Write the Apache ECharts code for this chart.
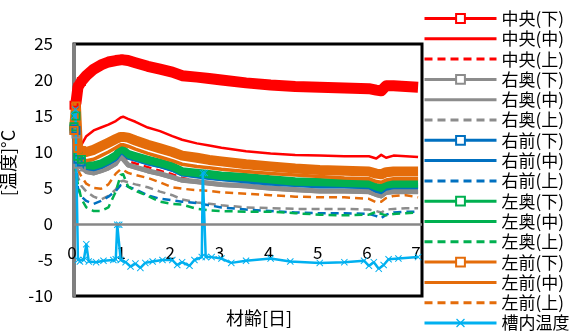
<!DOCTYPE html>
<html>
<head>
<meta charset="utf-8">
<script src="https://cdn.jsdelivr.net/npm/echarts@6/dist/echarts.min.js"></script>
<style>
html, body { margin: 0; padding: 0; background: #fff; }
#chart { width: 576px; height: 333px; }
</style>
</head>
<body>
<div id="chart"></div>
<script>
// Material age [days] shared by all sensor series
const ageDays = [0, 0.04, 0.08, 0.15, 0.25, 0.4, 0.55, 0.7, 0.85, 0.95, 1.0, 1.1, 1.25, 1.5, 1.75,
  2.0, 2.2, 2.5, 2.75, 3.0, 3.5, 4.0, 4.5, 5.0, 5.5, 6.0, 6.15, 6.25, 6.35, 6.5, 6.75, 7.0];

// 中央 (center)
const centerLow = [16.5, 16.8, 19.0, 19.8, 20.6, 21.5, 22.1, 22.5, 22.7, 22.8, 22.8, 22.7, 22.4, 21.9, 21.5,
  21.1, 20.6, 20.4, 20.2, 20.0, 19.6, 19.3, 19.1, 19.0, 18.9, 18.8, 18.6, 18.5, 19.2, 19.2, 19.1, 19.0];
const centerMid = [13.5, 9.0, 8.5, 11.0, 12.2, 13.0, 13.4, 13.8, 14.3, 14.8, 14.9, 14.6, 14.2, 13.4, 12.9,
  12.2, 11.7, 11.2, 10.9, 10.6, 10.1, 9.8, 9.6, 9.5, 9.4, 9.4, 9.1, 9.6, 9.2, 9.5, 9.4, 9.3];
const centerUp = [13.0, 8.0, 8.6, 8.3, 7.8, 7.4, 7.5, 7.9, 8.7, 9.5, 9.4, 8.7, 8.4, 7.9, 7.4,
  6.9, 6.4, 6.0, 5.7, 5.5, 5.3, 5.0, 4.8, 4.6, 4.6, 4.5, 4.1, 3.9, 4.4, 4.5, 4.5, 4.5];

// 右奥 (right back)
const rightBackLow = [13.0, 12.5, 8.3, 7.9, 7.3, 7.1, 7.4, 7.8, 8.4, 9.4, 9.0, 8.2, 7.9, 7.4, 7.0,
  6.5, 6.1, 5.9, 5.7, 5.5, 5.3, 5.0, 4.8, 4.6, 4.6, 4.5, 4.1, 3.9, 4.4, 4.5, 4.5, 4.5];
const rightBackMid = [12.8, 12.0, 8.1, 7.7, 7.1, 6.9, 7.2, 7.6, 8.2, 9.2, 8.8, 8.0, 7.7, 7.2, 6.8,
  6.3, 5.9, 5.7, 5.5, 5.3, 5.1, 4.8, 4.6, 4.4, 4.4, 4.3, 3.9, 3.7, 4.2, 4.3, 4.3, 4.3];
const rightBackUp = [12.5, 9.0, 6.5, 5.3, 4.5, 3.8, 3.4, 3.9, 4.8, 5.9, 6.0, 5.8, 5.5, 5.1, 4.5,
  4.0, 3.4, 3.0, 2.8, 2.6, 2.3, 2.2, 2.1, 2.1, 2.1, 2.0, 1.8, 1.6, 2.0, 2.1, 2.2, 2.2];

// 右前 (right front)
const rightFrontLow = [13.2, 13.0, 9.0, 8.6, 7.9, 7.8, 8.1, 8.6, 9.2, 10.1, 10.0, 9.4, 9.1, 8.6, 8.2,
  7.7, 7.0, 6.8, 6.6, 6.4, 6.2, 5.9, 5.6, 5.5, 5.4, 5.3, 4.8, 4.7, 5.2, 5.3, 5.3, 5.3];
const rightFrontMid = [13.0, 12.0, 8.6, 8.2, 7.7, 7.5, 7.8, 8.3, 8.9, 10.0, 9.8, 9.1, 8.8, 8.3, 7.9,
  7.4, 6.8, 6.5, 6.3, 6.1, 5.8, 5.5, 5.3, 5.1, 5.1, 5.0, 4.5, 4.3, 4.8, 5.0, 5.0, 5.0];
const rightFrontUp = [12.5, 8.0, 5.0, 3.8, 3.2, 2.8, 3.2, 3.8, 4.6, 5.4, 5.5, 5.2, 4.8, 4.0, 3.5,
  3.3, 3.1, 2.9, 2.6, 2.3, 2.0, 1.8, 1.6, 1.5, 1.5, 1.4, 1.1, 0.8, 1.3, 1.6, 1.7, 1.7];

// 左奥 (left back)
const leftBackLow = [13.5, 15.0, 9.4, 9.0, 8.3, 8.2, 8.5, 9.0, 9.6, 10.5, 10.4, 9.8, 9.5, 9.0, 8.6,
  8.1, 7.4, 7.2, 7.0, 6.8, 6.6, 6.3, 6.0, 5.9, 5.8, 5.7, 5.2, 5.1, 5.6, 5.7, 5.7, 5.7];
const leftBackMid = [13.2, 14.0, 8.9, 8.5, 7.8, 7.7, 8.0, 8.5, 9.1, 10.0, 9.9, 9.3, 9.0, 8.5, 8.1,
  7.6, 6.9, 6.7, 6.5, 6.3, 6.1, 5.8, 5.5, 5.4, 5.3, 5.2, 4.8, 4.6, 5.1, 5.2, 5.2, 5.2];
const leftBackUp = [12.0, 7.0, 5.5, 3.5, 2.3, 1.8, 1.8, 2.3, 4.5, 6.8, 6.9, 5.2, 4.6, 3.9, 3.1,
  2.8, 2.7, 2.1, 1.9, 1.8, 1.7, 1.7, 1.5, 1.3, 1.2, 1.3, 1.7, 1.4, 1.2, 1.4, 1.5, 1.6];

// 左前 (left front)
const leftFrontLow = [13.0, 16.4, 10.5, 10.2, 10.0, 10.3, 10.8, 11.3, 11.8, 12.1, 12.1, 12.0, 11.6, 11.0, 10.5,
  10.0, 9.5, 9.2, 8.9, 8.7, 8.3, 8.0, 7.7, 7.5, 7.4, 7.3, 7.0, 6.9, 7.2, 7.3, 7.3, 7.3];
const leftFrontMid = [14.0, 12.0, 9.3, 9.0, 8.8, 9.0, 9.5, 10.0, 10.6, 11.0, 11.0, 10.8, 10.4, 9.8, 9.3,
  8.8, 8.3, 8.0, 7.8, 7.6, 7.3, 7.0, 6.8, 6.6, 6.4, 6.3, 5.9, 5.8, 6.1, 6.3, 6.3, 6.3];
const leftFrontUp = [13.0, 10.0, 7.5, 6.6, 5.6, 5.0, 4.9, 5.5, 7.0, 7.6, 7.5, 7.1, 6.8, 6.4, 5.8,
  5.1, 4.9, 4.7, 4.6, 4.4, 4.2, 4.0, 3.8, 3.7, 3.7, 3.5, 3.0, 3.1, 3.6, 3.9, 4.0, 3.7];

// 槽内温度 (chamber temperature) has its own sampling times
const tankDays = [0, 0.03, 0.08, 0.12, 0.2, 0.25, 0.3, 0.45, 0.6, 0.8, 0.85, 0.88, 0.92, 0.95, 1.05,
  1.15, 1.25, 1.35, 1.45, 1.6, 1.8, 2.0, 2.1, 2.2, 2.35, 2.45, 2.6, 2.62, 2.66, 2.68, 2.8, 3.0,
  3.2, 3.5, 4.0, 4.4, 5.0, 5.5, 5.9, 6.0, 6.1, 6.2, 6.3, 6.4, 6.6, 7.0];
const tankTemp = [15.0, 15.9, -5.0, -5.2, -5.0, -2.8, -5.2, -5.3, -5.1, -5.0, -4.9, -0.1, -0.1, -5.0, -5.3,
  -5.9, -5.5, -6.1, -5.4, -5.2, -5.0, -5.0, -5.7, -5.3, -5.8, -5.0, -4.6, 7.1, 7.1, -4.6, -4.6, -4.8,
  -5.4, -5.1, -4.8, -5.2, -5.4, -5.3, -5.1, -5.8, -5.3, -6.2, -5.7, -4.9, -4.8, -4.6];

// Axis ticks
const xTickLabels = ['0', '1', '2', '3', '4', '5', '6', '7'];
const yTickLabels = ['-10', '-5', '0', '5', '10', '15', '20', '25'];

const FONT = "'Noto Sans CJK JP', 'Noto Sans', sans-serif";
const RED = '#FF0000', GRAY = '#8C8C8C', BLUE = '#0070C0', GREEN = '#00B050', ORANGE = '#E46C0A', SKY = '#00B0F0';

// zero-area marker so that plain line entries show only the line in the legend
const NO_SYMBOL = 'path://M0,0L10,10L0,0Z';
// hollow square marker (outer square clockwise, inner hole counter-clockwise)
const RING = 'path://M0,0L10,0L10,10L0,10Z M2,2L2,8L8,8L8,2Z';
const CROSS = 'path://M0,1L1,0L5,4L9,0L10,1L6,5L10,9L9,10L5,6L1,10L0,9L4,5Z';
// squares stay visible only where the readings jump during placement
const MARKED_POINTS = 4;

function sensorSeries(name, color, values, kind, bandWidth) {
  const s = {
    name: name,
    type: 'line',
    color: color,
    showSymbol: false,
    animation: false,
    silent: true,
    lineStyle: { color: color, width: 2.5, join: 'round' }
  };
  if (kind === 'low') {
    // legend shows a white-filled square; the plot uses hollow squares on a wide band
    s.symbol = 'emptyRect';
    s.symbolSize = 9;
    s.showSymbol = true;
    s.showAllSymbol = true;
    s.data = ageDays.map((t, i) => ({
      value: [t, values[i]],
      symbol: RING,
      symbolSize: i < MARKED_POINTS ? 9 : 0
    }));
    s.lineStyle.width = bandWidth;
  } else {
    s.symbol = NO_SYMBOL;
    s.itemStyle = { color: color, borderWidth: 0, opacity: 0 };
    s.data = ageDays.map((t, i) => [t, values[i]]);
    if (kind === 'up') s.lineStyle.type = [8, 5];
  }
  return s;
}

const series = [
  sensorSeries('中央(下)', RED, centerLow, 'low', 11),
  sensorSeries('中央(中)', RED, centerMid, 'mid'),
  sensorSeries('中央(上)', RED, centerUp, 'up'),
  sensorSeries('右奥(下)', GRAY, rightBackLow, 'low', 5),
  sensorSeries('右奥(中)', GRAY, rightBackMid, 'mid'),
  sensorSeries('右奥(上)', GRAY, rightBackUp, 'up'),
  sensorSeries('右前(下)', BLUE, rightFrontLow, 'low', 6),
  sensorSeries('右前(中)', BLUE, rightFrontMid, 'mid'),
  sensorSeries('右前(上)', BLUE, rightFrontUp, 'up'),
  sensorSeries('左奥(下)', GREEN, leftBackLow, 'low', 7),
  sensorSeries('左奥(中)', GREEN, leftBackMid, 'mid'),
  sensorSeries('左奥(上)', GREEN, leftBackUp, 'up'),
  sensorSeries('左前(下)', ORANGE, leftFrontLow, 'low', 10),
  sensorSeries('左前(中)', ORANGE, leftFrontMid, 'mid'),
  sensorSeries('左前(上)', ORANGE, leftFrontUp, 'up'),
  {
    name: '槽内温度',
    type: 'line',
    color: SKY,
    data: tankDays.map((t, i) => [t, tankTemp[i]]),
    symbol: CROSS,
    symbolSize: 7,
    showSymbol: true,
    showAllSymbol: true,
    animation: false,
    silent: true,
    itemStyle: { color: SKY },
    lineStyle: { color: SKY, width: 2.5 }
  }
];
series[13].lineStyle.width = 3.5;

// gray zero line across the plot, drawn beneath every curve
series[0].markLine = {
  silent: true,
  symbol: ['none', 'none'],
  label: { show: false },
  lineStyle: { color: '#878787', width: 2.5, type: 'solid' },
  data: [{ yAxis: 0 }]
};

const chart = echarts.init(document.getElementById('chart'), null, { renderer: 'canvas' });
chart.setOption({
  backgroundColor: '#fff',
  animation: false,
  textStyle: { fontFamily: FONT },
  grid: {
    left: 74, top: 44, width: 348, height: 252,
    containLabel: false,
    outerBoundsMode: 'none',
    show: true, borderColor: '#000', borderWidth: 3, backgroundColor: 'transparent'
  },
  legend: {
    type: 'plain',
    orient: 'vertical',
    left: 423, top: 10, width: 153, height: 330,
    padding: 0,
    itemWidth: 72, itemHeight: 11, itemGap: 3.3,
    selectedMode: false,
    lineStyle: { width: 3 },
    textStyle: { fontFamily: FONT, fontSize: 17, color: '#000' },
    data: series.map(s => s.name)
  },
  xAxis: {
    type: 'value',
    min: 0, max: 7.08, interval: 1,
    name: '材齢[日]',
    nameLocation: 'middle',
    nameGap: 13,
    nameTextStyle: { fontFamily: FONT, fontSize: 18, color: '#000', padding: [0, 0, 0, 22] },
    axisLine: { show: false, onZero: false },
    axisTick: { show: false },
    splitLine: { show: false },
    axisLabel: {
      fontFamily: FONT, fontSize: 17, color: '#000', margin: -52,
      padding: [0, 4, 0, 0],
      formatter: v => (Number.isInteger(v) ? xTickLabels[v] : '')
    }
  },
  yAxis: {
    type: 'value',
    min: -10, max: 25, interval: 5,
    name: '[温度]°C',
    nameLocation: 'middle',
    nameGap: 42,
    nameTextStyle: { fontFamily: FONT, fontSize: 18, color: '#000', padding: [0, 0, 0, 14] },
    axisLine: { show: true, onZero: false, lineStyle: { color: '#7F7F7F', width: 3 } },
    axisTick: { show: false },
    splitLine: { show: false },
    axisLabel: {
      fontFamily: FONT, fontSize: 17, color: '#000', margin: 21,
      formatter: v => yTickLabels[(v + 10) / 5]
    }
  },
  series: series
});
</script>
</body>
</html>
